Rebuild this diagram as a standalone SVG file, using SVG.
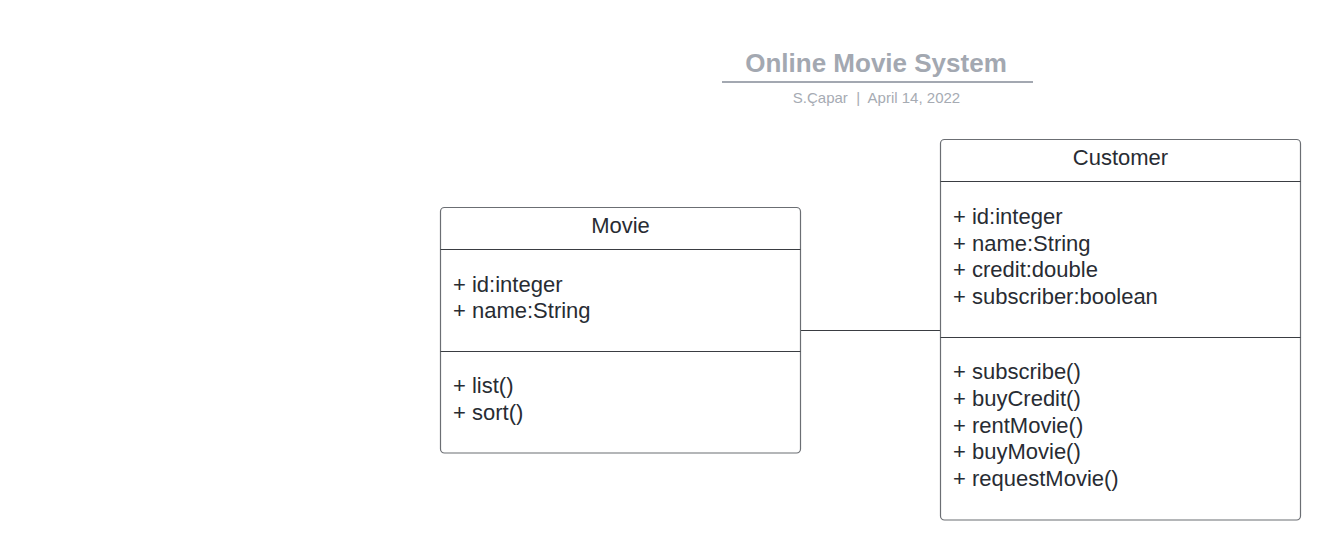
<svg xmlns="http://www.w3.org/2000/svg" width="1340" height="560" viewBox="0 0 1340 560">
  <style>
    .box { fill: #ffffff; stroke: #6b6e73; stroke-width: 1.2; }
    .div { stroke: #3a3d42; stroke-width: 1.2; }
    .t { font-family: "Liberation Sans", Arial, sans-serif; font-size: 22px; fill: #282c33; }
    .c { text-anchor: middle; }
    .conn { stroke: #3a3d42; stroke-width: 1.2; fill: none; }
  </style>
  <rect width="1340" height="560" fill="#ffffff"/>
  <g id="title">
    <text x="876" y="72" text-anchor="middle" font-family="Liberation Sans, Arial, sans-serif" font-size="26" font-weight="bold" fill="#a3a8b1">Online Movie System</text>
    <line x1="722" y1="82" x2="1033" y2="82" stroke="#a3a8b1" stroke-width="2"/>
    <text x="876.5" y="102.5" text-anchor="middle" font-family="Liberation Sans, Arial, sans-serif" font-size="15" fill="#a6abb3" xml:space="preserve">S.Çapar  |  April 14, 2022</text>
  </g>
  <g id="connectors">
    <line class="conn" x1="800.5" y1="330.5" x2="940.5" y2="330.5"/>
  </g>
  <g id="movie">
    <rect class="box" x="440.5" y="207.5" width="360" height="245.5" rx="4"/>
    <line class="div" x1="440.5" y1="249.5" x2="800.5" y2="249.5"/>
    <line class="div" x1="440.5" y1="351.5" x2="800.5" y2="351.5"/>
    <text class="t c" x="620.5" y="233">Movie</text>
    <text class="t" x="453" y="291.7">+ id:integer</text>
    <text class="t" x="453" y="318.3">+ name:String</text>
    <text class="t" x="453" y="393.3">+ list()</text>
    <text class="t" x="453" y="420">+ sort()</text>
  </g>
  <g id="customer">
    <rect class="box" x="940.5" y="139.5" width="360" height="380.5" rx="4"/>
    <line class="div" x1="940.5" y1="181.5" x2="1300.5" y2="181.5"/>
    <line class="div" x1="940.5" y1="337.5" x2="1300.5" y2="337.5"/>
    <text class="t c" x="1120.5" y="165">Customer</text>
    <text class="t" x="953" y="224">+ id:integer</text>
    <text class="t" x="953" y="250.7">+ name:String</text>
    <text class="t" x="953" y="277.3">+ credit:double</text>
    <text class="t" x="953" y="304">+ subscriber:boolean</text>
    <text class="t" x="953" y="379.3">+ subscribe()</text>
    <text class="t" x="953" y="406">+ buyCredit()</text>
    <text class="t" x="953" y="432.7">+ rentMovie()</text>
    <text class="t" x="953" y="459.3">+ buyMovie()</text>
    <text class="t" x="953" y="486">+ requestMovie()</text>
  </g>
</svg>
